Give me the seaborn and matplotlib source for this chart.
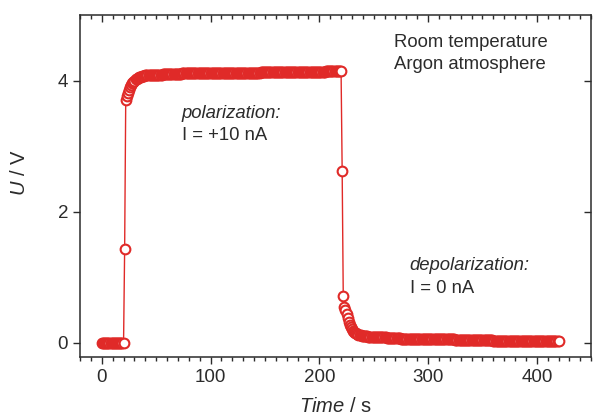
import matplotlib
matplotlib.use("Agg")
import matplotlib.pyplot as plt
from matplotlib.ticker import MultipleLocator
import pandas as pd
import seaborn as sns

t_base = list(range(0, 21))
u_base = [0.0, 0.0, 0.0, 0.0, 0.0, 0.0, 0.0, 0.0, 0.0, 0.0,
          0.0, 0.0, 0.0, 0.0, 0.0, 0.0, 0.0, 0.0, 0.0, 0.0,
          0.0]

t_rise = list(range(21, 40))
u_rise = [1.43, 3.70, 3.76, 3.81, 3.86, 3.90, 3.93, 3.96, 3.98, 4.00,
          4.02, 4.03, 4.04, 4.05, 4.055, 4.06, 4.065, 4.07, 4.075]

t_plateau = list(range(40, 221))
u_plateau = [4.08, 4.08, 4.08, 4.08, 4.08, 4.09, 4.09, 4.09, 4.09, 4.09,
             4.09, 4.09, 4.09, 4.09, 4.09, 4.09, 4.10, 4.10, 4.10, 4.10,
             4.10, 4.10, 4.10, 4.10, 4.10, 4.10, 4.10, 4.10, 4.10, 4.10,
             4.10, 4.10, 4.10, 4.10, 4.11, 4.11, 4.11, 4.11, 4.11, 4.11,
             4.11, 4.11, 4.11, 4.11, 4.11, 4.11, 4.11, 4.11, 4.11, 4.11,
             4.11, 4.11, 4.11, 4.11, 4.11, 4.11, 4.11, 4.11, 4.11, 4.11,
             4.11, 4.11, 4.11, 4.11, 4.11, 4.11, 4.12, 4.12, 4.12, 4.12,
             4.12, 4.12, 4.12, 4.12, 4.12, 4.12, 4.12, 4.12, 4.12, 4.12,
             4.12, 4.12, 4.12, 4.12, 4.12, 4.12, 4.12, 4.12, 4.12, 4.12,
             4.12, 4.12, 4.12, 4.12, 4.12, 4.12, 4.12, 4.12, 4.12, 4.12,
             4.12, 4.12, 4.12, 4.12, 4.12, 4.12, 4.13, 4.13, 4.13, 4.13,
             4.13, 4.13, 4.13, 4.13, 4.13, 4.13, 4.13, 4.13, 4.13, 4.13,
             4.13, 4.13, 4.13, 4.13, 4.13, 4.13, 4.13, 4.13, 4.13, 4.13,
             4.13, 4.13, 4.13, 4.13, 4.13, 4.13, 4.13, 4.13, 4.13, 4.13,
             4.13, 4.13, 4.13, 4.13, 4.13, 4.13, 4.13, 4.13, 4.13, 4.13,
             4.13, 4.13, 4.13, 4.13, 4.13, 4.13, 4.13, 4.13, 4.13, 4.13,
             4.13, 4.13, 4.13, 4.13, 4.13, 4.13, 4.14, 4.14, 4.14, 4.14,
             4.14, 4.14, 4.14, 4.14, 4.14, 4.14, 4.14, 4.14, 4.14, 4.14,
             4.14]

t_fall = list(range(221, 240))
u_fall = [2.62, 0.71, 0.55, 0.49, 0.44, 0.38, 0.32, 0.27, 0.23, 0.20,
          0.18, 0.16, 0.15, 0.14, 0.13, 0.12, 0.115, 0.11, 0.105]

t_tail = list(range(240, 421))
u_tail = [0.10, 0.10, 0.10, 0.10, 0.10, 0.09, 0.09, 0.09, 0.09, 0.09,
          0.09, 0.09, 0.08, 0.08, 0.08, 0.08, 0.08, 0.08, 0.08, 0.08,
          0.08, 0.08, 0.07, 0.07, 0.07, 0.07, 0.07, 0.07, 0.07, 0.07,
          0.07, 0.07, 0.07, 0.07, 0.07, 0.06, 0.06, 0.06, 0.06, 0.06,
          0.06, 0.06, 0.06, 0.06, 0.06, 0.06, 0.06, 0.06, 0.06, 0.06,
          0.06, 0.06, 0.06, 0.06, 0.06, 0.06, 0.06, 0.06, 0.06, 0.06,
          0.05, 0.05, 0.05, 0.05, 0.05, 0.05, 0.05, 0.05, 0.05, 0.05,
          0.05, 0.05, 0.05, 0.05, 0.05, 0.05, 0.05, 0.05, 0.05, 0.05,
          0.05, 0.05, 0.05, 0.05, 0.05, 0.04, 0.04, 0.04, 0.04, 0.04,
          0.04, 0.04, 0.04, 0.04, 0.04, 0.04, 0.04, 0.04, 0.04, 0.04,
          0.04, 0.04, 0.04, 0.04, 0.04, 0.04, 0.04, 0.04, 0.04, 0.04,
          0.04, 0.04, 0.04, 0.04, 0.04, 0.04, 0.04, 0.04, 0.04, 0.04,
          0.03, 0.03, 0.03, 0.03, 0.03, 0.03, 0.03, 0.03, 0.03, 0.03,
          0.03, 0.03, 0.03, 0.03, 0.03, 0.03, 0.03, 0.03, 0.03, 0.03,
          0.03, 0.03, 0.03, 0.03, 0.03, 0.02, 0.02, 0.02, 0.02, 0.02,
          0.02, 0.02, 0.02, 0.02, 0.02, 0.02, 0.02, 0.02, 0.02, 0.02,
          0.02, 0.02, 0.02, 0.02, 0.02, 0.02, 0.02, 0.02, 0.02, 0.02,
          0.02, 0.02, 0.02, 0.02, 0.02, 0.02, 0.02, 0.02, 0.02, 0.02,
          0.02]

df = pd.DataFrame({
    "time": t_base + t_rise + t_plateau + t_fall + t_tail,
    "U": u_base + u_rise + u_plateau + u_fall + u_tail,
})

sns.set_style("ticks")
plt.rcParams["font.family"] = ["Liberation Sans", "DejaVu Sans"]
plt.rcParams["mathtext.fontset"] = "custom"
plt.rcParams["mathtext.rm"] = "Liberation Sans"
plt.rcParams["mathtext.it"] = "Liberation Sans:italic"

red = "#e02a28"
dark = "#2b2b2b"

fig = plt.figure(figsize=(5.93, 4.18), dpi=100)
ax = fig.add_axes([0.135, 0.146, 0.862, 0.818])

sns.lineplot(data=df, x="time", y="U", ax=ax, estimator=None, sort=False,
             color=red, linewidth=1.0, marker="o", markersize=7.0,
             markerfacecolor="white", markeredgecolor=red, markeredgewidth=1.5)

ax.set_xlim(-20, 450)
ax.set_ylim(-0.22, 5.0)
ax.xaxis.set_major_locator(MultipleLocator(100))
ax.xaxis.set_minor_locator(MultipleLocator(10))
ax.yaxis.set_major_locator(MultipleLocator(2))

for s in ax.spines.values():
    s.set_visible(True)
    s.set_color(dark)
    s.set_linewidth(1.1)

ax.tick_params(which="both", direction="out", colors=dark, width=1.0,
               labelsize=13.5, labelcolor=dark, top=False, right=False)
ax.tick_params(which="major", length=5)
ax.tick_params(which="minor", length=3)

# mirrored ticks on top and right point inward
top = ax.secondary_xaxis("top")
top.xaxis.set_major_locator(MultipleLocator(100))
top.xaxis.set_minor_locator(MultipleLocator(10))
top.tick_params(which="both", direction="in", labeltop=False, colors=dark, width=1.0)
top.tick_params(which="major", length=5)
top.tick_params(which="minor", length=3)
top.spines["top"].set_visible(False)

right = ax.secondary_yaxis("right")
right.yaxis.set_major_locator(MultipleLocator(2))
right.tick_params(direction="in", labelright=False, colors=dark, width=1.0, length=5)
right.spines["right"].set_visible(False)

ax.set_xlabel(r"$\mathit{Time}$ / s", fontsize=14.5, color=dark, labelpad=8)
ax.set_ylabel(r"$\mathit{U}$ / V", fontsize=14.5, color=dark)
ax.yaxis.set_label_coords(-0.10, 0.54)

txt = dict(fontsize=13.3, color=dark, va="center", ha="left")
ax.text(269, 4.58, "Room temperature", **txt)
ax.text(269, 4.24, "Argon atmosphere", **txt)
ax.text(73.5, 3.50, "polarization:", style="italic", **txt)
ax.text(73.5, 3.16, "I = +10 nA", **txt)
ax.text(283, 1.18, "depolarization:", style="italic", **txt)
ax.text(283, 0.83, "I = 0 nA", **txt)

fig.savefig("out.png", dpi=100)
